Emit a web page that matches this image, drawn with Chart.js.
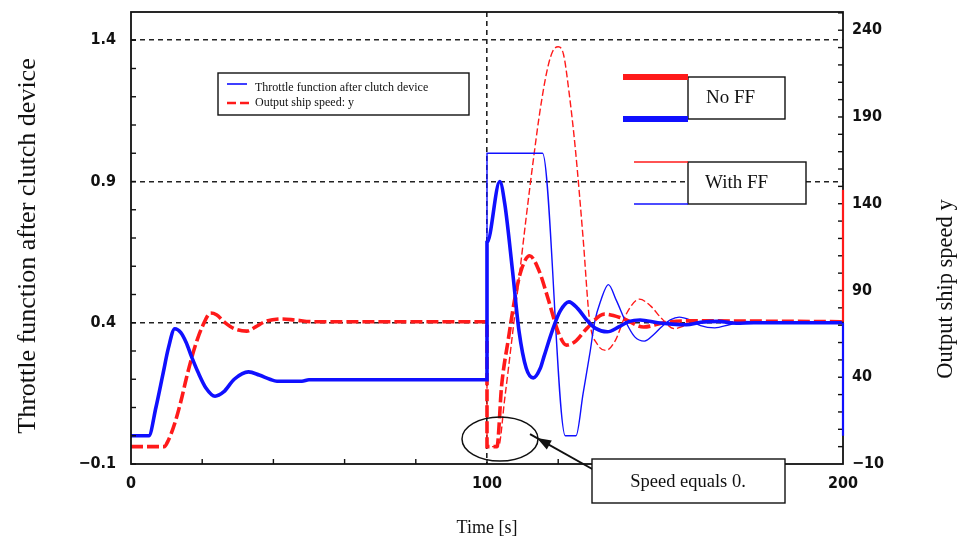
<!DOCTYPE html>
<html>
<head>
<meta charset="utf-8">
<script src="https://cdn.jsdelivr.net/npm/chart.js@4.4.0/dist/chart.umd.min.js"></script>
<style>
    html, body { margin: 0; padding: 0; background: #fff; }
    #wrap { width: 965px; height: 542px; }
</style>
</head>
<body>
<div id="wrap"><canvas id="shipchart" width="965" height="542"></canvas></div>
<script>
// throttle after clutch, no feed-forward (left axis)
const noFfThrottleTime = [0, 5, 7, 9, 10.5, 12.3, 14, 15.5, 17, 19, 21, 23.6, 26, 29, 33, 36, 39, 41, 48, 50, 100,
    100, 103.6, 105, 107.2, 109, 111, 113, 115, 116, 118.4, 120.5, 123, 125.5, 128, 130.5, 133.8, 137, 140, 143,
    148, 152, 156, 160, 165, 170, 175, 200];
const noFfThrottle = [0, 0, 0.1, 0.22, 0.31, 0.379, 0.365, 0.33, 0.28, 0.22, 0.17, 0.14, 0.155, 0.2, 0.226, 0.215, 0.2, 0.193, 0.193, 0.198, 0.198,
    0.684, 0.9, 0.82, 0.58, 0.37, 0.24, 0.205, 0.24, 0.28, 0.374, 0.44, 0.474, 0.45, 0.41, 0.38, 0.368, 0.385, 0.405, 0.41,
    0.4, 0.395, 0.393, 0.402, 0.405, 0.398, 0.4, 0.4];

// throttle after clutch, with feed-forward (left axis)
const ffThrottleTime = [100, 100, 115.6, 122, 125, 127, 129, 130.2, 132, 134.1, 136.3, 139.1, 141.5, 144.2, 147, 149,
    151.5, 154, 157, 160, 164, 168, 172, 176, 180, 200];
const ffThrottle = [0.198, 1.0, 1.0, 0.0, 0.0, 0.15, 0.3, 0.4, 0.48, 0.535, 0.48, 0.4, 0.35, 0.335, 0.36, 0.385,
    0.41, 0.42, 0.41, 0.39, 0.382, 0.393, 0.405, 0.402, 0.4, 0.4];

// output ship speed, no feed-forward (right axis)
const noFfSpeedTime = [0, 9.3, 10.5, 12.3, 14, 15.5, 17.1, 18.5, 20, 22.4, 24, 26.4, 29, 32.5, 35, 37.6, 42.4, 46, 51, 100,
    100, 102.8, 104.1, 106, 107.7, 109.5, 112, 114.5, 117.2, 120, 122.3, 125, 128, 133, 138, 144, 150, 156, 200];
const noFfSpeed = [0, 0, 3.7, 13.5, 26, 39, 51.6, 61, 69, 77, 76, 71.5, 68, 66.6, 69, 72, 73.6, 73, 72, 72,
    0, 0, 35, 62, 84, 101, 110, 102, 85, 66, 58.5, 61, 68, 76.4, 74, 69, 71.5, 72.5, 72];

// output ship speed, with feed-forward (right axis)
const ffSpeedTime = [100, 100, 103.2, 105, 107, 109, 111, 113, 115, 117, 118.5, 120, 121.5, 123, 124.8, 127, 128.8,
    131, 133.5, 136, 139, 142.8, 146, 149, 152.6, 156, 160, 200];
const ffSpeed = [72, 0, 0, 28, 62, 97, 132, 165, 195, 218, 228, 230.5, 226, 205, 172, 120, 73,
    59, 55.5, 61, 76, 85, 81, 74, 68, 70, 72, 72];

const leftLabels = [1.4, 0.9, 0.4, -0.1];
const rightLabels = [240, 190, 140, 90, 40, -10];
const timeLabels = [0, 100, 200];
const dashedLevels = [1.4, 0.9, 0.4];
const dashedTimes = [100];

const serif = '"Liberation Serif", "Times New Roman", serif';
const narrow = '"Liberation Sans Narrow", "DejaVu Sans Condensed", "Arial Narrow", sans-serif';
const BLUE = '#1010ff';
const RED = '#ff1a1a';

const pairs = (xs, ys) => xs.map((t, i) => ({x: t, y: ys[i]}));
const near = (list, v, eps) => list.some(item => Math.abs(item - v) < eps);
const minus = v => String(v).replace('-', '\u2212');

function line(ctx, x1, y1, x2, y2) {
    ctx.beginPath();
    ctx.moveTo(x1, y1);
    ctx.lineTo(x2, y2);
    ctx.stroke();
}

function box(ctx, x, y, w, h) {
    ctx.fillStyle = '#fff';
    ctx.fillRect(x, y, w, h);
    ctx.strokeStyle = '#111';
    ctx.lineWidth = 1.4;
    ctx.strokeRect(x, y, w, h);
}

// frame, inward ticks, side titles and the callouts
const decorations = {
    id: 'decorations',
    afterDraw(chart) {
        const {ctx, chartArea: a, scales: {x, y, y2}} = chart;
        ctx.save();
        ctx.setLineDash([]);
        ctx.strokeStyle = '#111';
        ctx.lineWidth = 1.4;
        for (let i = 0; i <= 15; i++) {
            const py = y.getPixelForValue(-0.1 + i * 0.1);
            line(ctx, a.left, py, a.left + 5, py);
        }
        for (let s = 0; s <= 250; s += 10) {
            const py = y2.getPixelForValue(s);
            line(ctx, a.right - 5, py, a.right, py);
        }
        for (let t = 20; t < 200; t += 20) {
            const px = x.getPixelForValue(t);
            line(ctx, px, a.bottom, px, a.bottom - 5);
        }
        ctx.lineWidth = 1.8;
        ctx.strokeRect(a.left, a.top, a.right - a.left, a.bottom - a.top);

        // coloured stretches on the right border
        ctx.lineWidth = 2.2;
        ctx.strokeStyle = RED;
        line(ctx, a.right, y2.getPixelForValue(148), a.right, y2.getPixelForValue(72));
        ctx.strokeStyle = BLUE;
        line(ctx, a.right, y.getPixelForValue(0.4), a.right, y.getPixelForValue(0.0));

        // axis titles on both sides, reading bottom to top
        ctx.fillStyle = '#111';
        ctx.textAlign = 'center';
        ctx.textBaseline = 'middle';
        [[28, 246, 26, 'Throttle function after clutch device'], [946, 289, 22.5, 'Output ship speed y']].forEach(([tx, ty, size, text]) => {
            ctx.save();
            ctx.translate(tx, ty);
            ctx.rotate(-Math.PI / 2);
            ctx.font = size + 'px ' + serif;
            ctx.fillText(text, 0, 0);
            ctx.restore();
        });

        // legend
        box(ctx, 218, 73, 251, 42);
        ctx.lineWidth = 1.6;
        ctx.strokeStyle = BLUE;
        line(ctx, 227, 84, 247, 84);
        ctx.strokeStyle = RED;
        ctx.lineWidth = 2.6;
        ctx.setLineDash([9, 4]);
        line(ctx, 227, 103, 250, 103);
        ctx.setLineDash([]);
        ctx.fillStyle = '#111';
        ctx.font = '12px ' + serif;
        ctx.textAlign = 'left';
        ctx.fillText('Throttle function after clutch device', 255, 88);
        ctx.fillText('Output ship speed: y', 255, 103);

        // No FF / With FF keys
        box(ctx, 688, 77, 97, 42);
        box(ctx, 688, 162, 118, 42);
        ctx.lineWidth = 6;
        ctx.strokeStyle = RED;
        line(ctx, 623, 77, 688, 77);
        ctx.strokeStyle = BLUE;
        line(ctx, 623, 119, 688, 119);
        ctx.lineWidth = 1.6;
        ctx.strokeStyle = RED;
        line(ctx, 634, 162, 688, 162);
        ctx.strokeStyle = BLUE;
        line(ctx, 634, 204, 688, 204);
        ctx.fillStyle = '#111';
        ctx.font = '19px ' + serif;
        ctx.fillText('No FF', 706, 98);
        ctx.fillText('With FF', 705, 183);

        // "Speed equals 0." callout
        ctx.strokeStyle = '#111';
        ctx.lineWidth = 1.5;
        ctx.beginPath();
        ctx.ellipse(500, 439, 38, 22, 0, 0, Math.PI * 2);
        ctx.stroke();
        const tip = [537, 438], tail = [594, 470];
        const ang = Math.atan2(tip[1] - tail[1], tip[0] - tail[0]);
        ctx.lineWidth = 2;
        line(ctx, tail[0], tail[1], tip[0] + 8 * Math.cos(ang), tip[1] + 8 * Math.sin(ang));
        ctx.beginPath();
        ctx.moveTo(tip[0], tip[1]);
        ctx.lineTo(tip[0] - 15 * Math.cos(ang - 0.35), tip[1] - 15 * Math.sin(ang - 0.35));
        ctx.lineTo(tip[0] - 15 * Math.cos(ang + 0.35), tip[1] - 15 * Math.sin(ang + 0.35));
        ctx.closePath();
        ctx.fillStyle = '#111';
        ctx.fill();
        box(ctx, 592, 459, 193, 44);
        ctx.fillStyle = '#111';
        ctx.font = '18.5px ' + serif;
        ctx.textAlign = 'center';
        ctx.fillText('Speed equals 0.', 688, 482);
        ctx.restore();
    }
};

const tickFont = {family: narrow, size: 16, weight: 'bold'};

// fixed side widths; drop the half-label padding so the plot starts near the top
const fixWidth = w => scale => {
    scale.width = w;
    scale.paddingTop = 0;
    scale.paddingBottom = 0;
};

const config = {
    type: 'line',
    data: {
        datasets: [
            {
                data: pairs(noFfThrottleTime, noFfThrottle),
                yAxisID: 'y',
                borderColor: BLUE,
                borderWidth: 3.6
            },
            {
                data: pairs(noFfSpeedTime, noFfSpeed),
                yAxisID: 'y2',
                borderColor: RED,
                borderWidth: 3.6,
                borderDash: [12, 4]
            },
            {
                data: pairs(ffThrottleTime, ffThrottle),
                yAxisID: 'y',
                borderColor: BLUE,
                borderWidth: 1.4
            },
            {
                data: pairs(ffSpeedTime, ffSpeed),
                yAxisID: 'y2',
                borderColor: RED,
                borderWidth: 1.4,
                borderDash: [7, 3]
            }
        ]
    },
    options: {
        responsive: false,
        animation: false,
        devicePixelRatio: 1,
        events: [],
        layout: {padding: {top: 12}},
        elements: {
            point: {radius: 0},
            line: {cubicInterpolationMode: 'monotone', fill: false}
        },
        plugins: {
            legend: {display: false},
            tooltip: {enabled: false}
        },
        scales: {
            x: {
                type: 'linear',
                min: 0,
                max: 200,
                afterFit: scale => {
                    scale.height = 78;
                    scale.paddingLeft = 0;
                    scale.paddingRight = 0;
                },
                grid: {
                    drawTicks: false,
                    lineWidth: 1.6,
                    color: c => near(dashedTimes, c.tick.value, 0.01) ? '#222' : 'rgba(0,0,0,0)'
                },
                border: {display: false, dash: [5, 4]},
                ticks: {
                    stepSize: 20,
                    autoSkip: false,
                    maxRotation: 0,
                    padding: 10,
                    color: '#111',
                    font: tickFont,
                    callback: v => timeLabels.includes(v) ? String(v) : ''
                },
                title: {
                    display: true,
                    text: 'Time [s]',
                    color: '#111',
                    font: {family: serif, size: 18},
                    padding: {top: 0, bottom: 3}
                }
            },
            y: {
                position: 'left',
                min: -0.1,
                max: 1.5,
                afterFit: fixWidth(131),
                grid: {
                    drawTicks: false,
                    lineWidth: 1.6,
                    color: c => near(dashedLevels, c.tick.value, 0.001) ? '#222' : 'rgba(0,0,0,0)'
                },
                border: {display: false, dash: [5, 4]},
                ticks: {
                    stepSize: 0.1,
                    autoSkip: false,
                    padding: 15,
                    color: '#111',
                    font: tickFont,
                    callback: v => near(leftLabels, v, 0.001) ? minus(Number(v).toFixed(1)) : ''
                }
            },
            y2: {
                position: 'right',
                min: -10,
                max: 250.5,
                afterFit: fixWidth(122),
                grid: {display: false, drawTicks: false},
                border: {display: false},
                ticks: {
                    stepSize: 10,
                    autoSkip: false,
                    padding: 9,
                    color: '#111',
                    font: tickFont,
                    callback: v => rightLabels.includes(v) ? minus(v) : ''
                }
            }
        }
    },
    plugins: [decorations]
};

const shipChart = new Chart(document.getElementById('shipchart'), config);
</script>
</body>
</html>
